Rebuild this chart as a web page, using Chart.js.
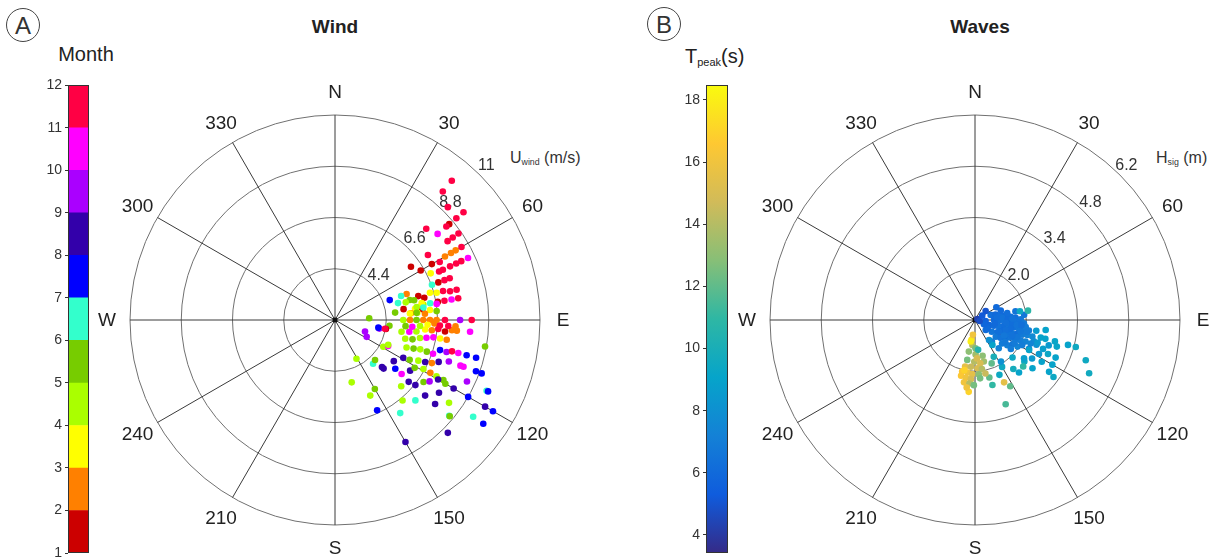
<!DOCTYPE html>
<html>
<head>
<meta charset="utf-8">
<script src="https://cdn.jsdelivr.net/npm/chart.js@4.4.1/dist/chart.umd.min.js"></script>
<style>
  html, body { margin: 0; padding: 0; background: #fff; overflow: hidden; }
  body { width: 1221px; height: 558px; position: relative; font-family: 'Liberation Sans', Arial, sans-serif; color: #222; }
  .box { position: absolute; }
  .txt { position: absolute; white-space: nowrap; }
  .panel { position: absolute; width: 32px; height: 32px; border: 1.3px solid #444; border-radius: 50%;
           font-size: 24px; line-height: 33px; text-align: center; color: #333; }
  sub { font-size: 0.55em; vertical-align: -0.25em; }
</style>
</head>
<body>

<div class="panel" style="left:6px;top:8px;">A</div>
<div class="panel" style="left:647px;top:7px;">B</div>
<div class="txt" style="left:235px;top:16px;width:200px;text-align:center;font-weight:bold;font-size:19px;">Wind</div>
<div class="txt" style="left:880px;top:16px;width:200px;text-align:center;font-weight:bold;font-size:19px;">Waves</div>
<div class="txt" style="left:36px;top:43px;width:100px;text-align:center;font-size:20px;">Month</div>
<div class="txt" style="left:685px;top:45px;font-size:20px;">T<sub>peak</sub>(s)</div>
<div class="txt" style="left:510px;top:149px;font-size:16px;color:#333;">U<sub>wind</sub> (m/s)</div>
<div class="txt" style="left:1156px;top:149px;font-size:16px;color:#333;">H<sub>sig</sub> (m)</div>

<div class="box" style="left:40px;top:74px;width:60px;height:498px;"><canvas id="monthBar"></canvas></div>
<div class="box" style="left:670px;top:70px;width:70px;height:500px;"><canvas id="tpBar"></canvas></div>
<div class="box" style="left:90px;top:0;width:510px;height:558px;"><canvas id="windPolar"></canvas></div>
<div class="box" style="left:730px;top:0;width:491px;height:558px;"><canvas id="wavePolar"></canvas></div>

<script>
const FONT = "'Liberation Sans', Arial, sans-serif";

// ---- compass / ring labels
const directionLabels = ['N', '30', '60', 'E', '120', '150', 'S', '210', '240', 'W', '300', '330'];
const windRingMin = 2.2;
const windRings = [4.4, 6.6, 8.8, 11];
const windRingText = ['4.4', '6.6', '8.8', '11'];
const waveRingMin = 0.6;
const waveRings = [2.0, 3.4, 4.8, 6.2];
const waveRingText = ['2.0', '3.4', '4.8', '6.2'];

// ---- colorbar ticks
const monthTicks = [1, 2, 3, 4, 5, 6, 7, 8, 9, 10, 11, 12];
const monthColors = ['#cc0000', '#ff8000', '#ffff00', '#aaff00', '#77cc00', '#33ffcc',
                     '#0000ff', '#3300aa', '#aa00ff', '#ff00ff', '#ff0044'];
const tpTicks = [4, 6, 8, 10, 12, 14, 16, 18];
const tpMin = 3.42, tpMax = 18.48;
const parula = ['#352a87', '#0f5cdd', '#1481d6', '#06a4ca', '#2eb7a4', '#87bf77', '#d1bb59', '#fec832', '#f9fb0e'];

// ---- wind: direction (deg from N), speed (m/s), month
const windDir = [
  40, 40, 45, 50, 50, 50, 50, 45, 50, 55, 55, 55, 60, 60, 60, 60, 55, 65, 65, 61, 60, 55, 60, 65, 65, 64, 65, 65, 70, 70,
  70, 70, 76, 76, 75, 75, 74, 70, 74, 76, 70, 70, 75, 80, 80, 80, 80, 80, 80, 81, 82, 83, 84, 85, 83, 85, 85, 86, 87,
  90, 90, 90, 90, 90, 90, 90, 90, 90,
  96, 101, 100, 111, 118,
  100, 99, 98, 96, 96, 95, 96, 95, 95,
  105, 104, 102, 101, 100, 100, 100,
  100, 119, 116,
  111, 110, 109, 109, 109, 106, 106, 105, 105,
  105, 105,
  119, 118, 116, 115, 114, 112, 110, 110, 110,
  151, 139, 135, 135, 135, 125, 129, 129, 124,
  121, 119, 119, 119, 119,
  110, 110, 165, 150, 155, 155, 135, 130, 129, 125, 123, 120, 120, 120, 120, 115, 115, 115, 140, 135, 130, 125,
  130, 126, 120, 120, 125, 125, 130, 145, 135, 150,
  75, 76, 76, 79, 81, 81, 82, 85, 85, 95, 95, 94, 93, 92, 93, 93, 93, 100, 100, 115, 95, 130
];
const windSpeed = [
  10.0, 9.4, 9.05, 9.4, 9.0, 8.6, 8.44, 7.74, 7.95, 8.67, 8.37, 8.1, 8.47, 8.18, 7.95, 7.65, 7.07, 8.5, 8.18, 7.34,
  7.0, 6.18, 6.45, 7.65, 7.94, 6.77, 7.13, 7.31, 7.44, 7.2, 6.92, 6.63, 7.58, 7.29, 7.0, 6.72, 6.44, 5.47, 5.92, 6.15,
  4.7, 5.22, 5.52, 7.57, 7.28, 6.97, 6.68, 6.35, 6.05, 5.18, 5.67, 5.98, 6.3, 6.58, 4.8, 5.47, 5.75, 6.07, 3.67,
  5.13, 5.42, 5.7, 5.99, 6.28, 6.56, 6.92, 7.57, 8.07,
  4.55, 4.14, 4.42, 3.58, 3.74,
  5.1, 5.43, 5.73, 6.09, 6.38, 6.65, 6.95, 7.24, 7.45,
  5.32, 5.63, 5.93, 6.2, 6.49, 6.78, 7.07,
  8.74, 4.57, 4.74,
  5.49, 5.79, 6.07, 6.37, 6.65, 6.89, 7.18, 7.4, 7.68,
  8.05, 8.47,
  5.55, 5.83, 6.18, 6.47, 6.75, 7.0, 7.4, 7.93, 8.07,
  4.1, 4.69, 4.63, 5.05, 5.15, 5.28, 5.53, 5.88, 6.09,
  6.19, 6.54, 6.88, 7.18, 7.52,
  8.64, 8.9, 4.97, 5.62, 5.78, 6.48, 6.22, 6.33, 6.64, 6.84, 7.04, 7.31, 7.67, 8.08, 8.8, 8.45, 9.38, 9.45, 6.71,
  7.08, 7.25, 7.65, 7.81, 8.25, 9.64, 10.03, 9.97, 9.44, 8.6, 7.08, 9.05, 8.25,
  5.0, 5.33, 5.7, 5.99, 6.62, 5.75, 6.03, 5.43, 5.72, 5.24, 5.53, 5.86, 6.18, 6.47, 6.71, 7.07, 7.38, 4.09, 4.38,
  4.72, 8.02, 8.63
];
const windMonth = [
  12, 12, 12, 12, 12, 1, 12, 12, 10, 12, 12, 12, 12, 2, 2, 2, 12, 10, 12, 12, 1, 1, 1, 12, 12, 3, 12, 12, 12, 12,
  1, 6, 12, 12, 12, 3, 3, 2, 1, 1, 7, 6, 5, 12, 10, 12, 1, 6, 4, 1, 3, 1, 3, 5, 5, 2, 3, 2, 5,
  4, 2, 5, 2, 2, 2, 12, 9, 12,
  5, 9, 1, 9, 9,
  4, 10, 4, 3, 2, 12, 1, 2, 2,
  4, 5, 4, 10, 10, 3, 2,
  5, 4, 10,
  4, 5, 4, 5, 10, 7, 9, 12, 10,
  7, 7,
  8, 5, 4, 8, 2, 8, 9, 10, 10,
  4, 6, 5, 8, 8, 8, 7, 10, 8,
  5, 4, 2, 4, 5,
  7, 7, 4, 5, 4, 7, 4, 8, 8, 5, 9, 8, 5, 8, 7, 9, 6, 7, 4, 6, 8, 8,
  8, 4, 8, 7, 7, 6, 6, 6, 8, 8,
  6, 4, 5, 3, 10, 4, 6, 3, 5, 5, 10, 4, 3, 2, 12, 12, 2, 7, 12, 4, 10, 5
];

// ---- waves: direction (deg from N), Hsig (m), Tpeak (s)
const waveDir = [
  72, 75, 80, 81, 85, 87, 89, 90, 92, 90, 92, 92, 93, 94,
  110, 107, 106, 101, 101, 101, 101, 100, 101,
  133, 125, 119, 112, 111, 110, 108, 107, 106,
  129, 125, 121, 116, 115, 114, 113,
  131, 128, 123, 122, 118, 118,
  140, 129, 95, 124, 116, 59, 50, 67, 102, 59, 142, 78, 84, 106, 110, 112, 113, 97, 116, 116, 98, 112,
  83, 86, 88, 95, 97, 104, 104, 108, 113, 118, 120, 126, 96, 88, 78, 70, 103, 100,
  79, 80, 105, 105, 105, 113, 115, 115, 105, 105, 110, 115, 125, 130, 130, 140, 134, 118, 124, 150,
  156, 152, 160, 155, 166, 165, 110, 109, 119, 145, 153, 148, 145, 120,
  100, 98, 108, 122, 128, 135, 142, 126,
  190, 186, 179, 191, 179, 168, 168, 191, 181, 173, 192, 185, 177, 172, 194, 188, 183, 176, 194, 189,
  184, 190, 185, 185, 181, 187, 159, 191, 188, 174, 175, 169, 177, 192
];
const waveHs = [
  1.05, 1.18, 1.31, 1.45, 1.58, 1.71, 1.85, 1.12, 1.26, 1.39, 1.53, 1.67, 1.80, 1.94,
  1.01, 1.14, 1.28, 1.41, 1.55, 1.68, 1.82, 1.96, 2.10,
  1.00, 1.16, 1.30, 1.41, 1.55, 1.68, 1.81, 1.95, 2.09,
  1.33, 1.45, 1.58, 1.69, 1.83, 1.96, 2.10,
  1.58, 1.72, 1.82, 1.97, 2.06, 2.27,
  1.61, 1.86, 0.89, 1.01, 0.87, 1.28, 0.98, 0.67, 0.73, 0.83, 1.35, 1.73, 1.95, 2.23, 2.31, 2.41, 2.25, 1.63, 1.53,
  1.33, 2.00, 1.84,
  1.20, 1.36, 1.50, 1.45, 1.75, 1.60, 1.88, 1.48, 1.70, 1.50, 1.85, 1.62, 1.88, 1.62, 1.50, 1.35, 2.05, 1.15,
  1.85, 2.07, 2.46, 2.59, 2.86, 2.62, 2.80, 3.03, 3.23, 3.45, 3.82, 4.04, 3.07, 2.65, 2.36, 2.47, 2.43, 2.58, 2.48,
  2.08, 2.24, 2.65, 3.05, 2.48, 2.22, 2.44, 2.42, 2.73, 2.29, 1.43, 1.73, 1.94, 1.27, 3.04,
  2.30, 2.55, 2.95, 2.75, 2.30, 2.05, 2.30, 3.25,
  1.15, 1.29, 1.37, 1.48, 1.54, 1.60, 1.76, 1.71, 1.74, 1.79, 1.90, 1.88, 1.92, 1.95, 2.05, 2.05, 2.08, 2.09, 2.17,
  2.20, 2.22, 2.33, 2.34, 2.57, 2.38, 2.46, 1.87, 1.20, 1.01, 1.42, 2.20, 2.09, 1.65, 2.00
];
const waveTp = [
  6.2, 6.0, 6.3, 6.1, 6.4, 6.2, 6.6, 6.0, 6.3, 6.5, 6.2, 6.6, 6.4, 6.8,
  5.8, 6.1, 6.4, 6.2, 6.5, 6.3, 6.7, 6.5, 7.0,
  6.2, 6.6, 6.3, 6.1, 6.4, 6.6, 6.2, 6.9, 7.2,
  6.8, 6.5, 6.3, 6.6, 6.4, 7.0, 7.3,
  6.9, 7.1, 6.6, 7.4, 7.0, 7.6,
  7.2, 7.0, 5.6, 6.0, 5.8, 6.0, 5.0, 4.3, 4.8, 5.2, 7.0, 6.5, 6.7, 7.6, 7.8, 8.0, 7.4, 6.2, 6.5, 6.3, 6.9, 6.6,
  6.2, 6.4, 6.1, 6.3, 6.5, 6.2, 6.6, 6.3, 6.4, 6.7, 6.9, 6.8, 6.3, 6.4, 6.2, 6.0, 6.8, 6.0,
  9.5, 10.8, 9.0, 9.0, 9.2, 8.8, 9.3, 9.0, 9.0, 9.5, 9.5, 9.6, 9.0, 9.0, 9.5, 9.0, 11.0, 8.5, 8.5, 9.5,
  9.5, 12.0, 11.5, 15.5, 12.0, 11.0, 8.5, 8.5, 9.0, 9.0, 10.0, 8.0, 8.0, 9.0,
  8.6, 9.0, 9.2, 9.0, 8.8, 9.4, 9.8, 9.4,
  17.5, 14.0, 12.5, 13.0, 13.5, 13.0, 13.5, 12.5, 14.0, 15.0, 15.5, 14.5, 15.0, 14.0, 16.5, 16.0, 15.5, 13.0, 16.5,
  16.0, 15.0, 16.0, 14.0, 17.0, 12.5, 16.0, 12.0, 18.0, 16.0, 10.5, 12.5, 14.5, 15.0, 17.0
];

// ---- helpers
function hexToRgb(h) {
  const n = parseInt(h.slice(1), 16);
  return [(n >> 16) & 255, (n >> 8) & 255, n & 255];
}
function parulaColor(v) {
  let t = (v - tpMin) / (tpMax - tpMin);
  t = Math.max(0, Math.min(1, t)) * (parula.length - 1);
  const i = Math.min(Math.floor(t), parula.length - 2);
  const f = t - i;
  const a = hexToRgb(parula[i]), b = hexToRgb(parula[i + 1]);
  const c = a.map((x, k) => Math.round(x + (b[k] - x) * f));
  return `rgb(${c[0]},${c[1]},${c[2]})`;
}
function monthColor(m) {
  return monthColors[Math.min(Math.floor(m) - 1, monthColors.length - 1)];
}

// polar grid drawn behind the points, sized from the chart's own scales
const polarGrid = {
  id: 'polarGrid',
  beforeDatasetsDraw(chart, args, opts) {
    const { ctx } = chart;
    const sx = chart.scales.x, sy = chart.scales.y;
    const cx = sx.getPixelForValue(0), cy = sy.getPixelForValue(0);
    const rad = v => sx.getPixelForValue(v - opts.rmin) - cx;
    const R = rad(opts.rings[opts.rings.length - 1]);

    ctx.save();
    ctx.lineWidth = 1;
    ctx.strokeStyle = '#707070';
    opts.rings.forEach(v => {
      ctx.beginPath();
      ctx.arc(cx, cy, rad(v), 0, Math.PI * 2);
      ctx.stroke();
    });

    ctx.strokeStyle = '#3a3a3a';
    ctx.fillStyle = '#222';
    ctx.font = `19px ${FONT}`;
    ctx.textAlign = 'center';
    ctx.textBaseline = 'middle';
    directionLabels.forEach((lab, i) => {
      const a = i * 30 * Math.PI / 180;
      ctx.beginPath();
      ctx.moveTo(cx, cy);
      ctx.lineTo(cx + R * Math.sin(a), cy - R * Math.cos(a));
      ctx.stroke();
      ctx.fillText(lab, cx + (R + 23) * Math.sin(a), cy - (R + 23) * Math.cos(a) + 1);
    });

    ctx.font = `16px ${FONT}`;
    ctx.fillStyle = '#333';
    const la = 44.5 * Math.PI / 180;
    opts.rings.forEach((v, i) => {
      const r = rad(v) + 11;
      ctx.fillText(opts.ringText[i], cx + r * Math.sin(la), cy - r * Math.cos(la));
    });

    ctx.fillStyle = '#111';
    ctx.beginPath();
    ctx.arc(cx, cy, 2.5, 0, Math.PI * 2);
    ctx.fill();
    ctx.restore();
  }
};

const cbFrame = {
  id: 'cbFrame',
  afterDraw(chart) {
    const { ctx, chartArea: a } = chart;
    ctx.save();
    ctx.strokeStyle = '#333';
    ctx.lineWidth = 1;
    ctx.strokeRect(Math.round(a.left) + 0.5, Math.round(a.top) + 0.5,
                   Math.round(a.right - a.left) - 1, Math.round(a.bottom - a.top) - 1);
    ctx.restore();
  }
};

function polarChart(id, dirs, vals, colors, rmin, rings, ringText, padding) {
  const span = rings[rings.length - 1] - rmin;
  const pts = dirs.map((d, i) => {
    const r = vals[i] - rmin, a = d * Math.PI / 180;
    return { x: r * Math.sin(a), y: r * Math.cos(a) };
  });
  return new Chart(document.getElementById(id), {
    type: 'scatter',
    data: {
      datasets: [{
        data: pts,
        pointBackgroundColor: colors,
        pointBorderWidth: 0,
        pointRadius: 3.3,
        pointHoverRadius: 3.3,
        clip: false
      }]
    },
    options: {
      responsive: true,
      maintainAspectRatio: false,
      animation: false,
      layout: { padding },
      scales: {
        x: { display: false, min: -span, max: span },
        y: { display: false, min: -span, max: span }
      },
      plugins: {
        legend: { display: false },
        tooltip: { enabled: false },
        polarGrid: { rmin, rings, ringText }
      }
    },
    plugins: [polarGrid]
  });
}

function colorbarAxis(ticks, width) {
  return {
    min: ticks[0],
    max: ticks[ticks.length - 1],
    afterFit(s) { s.width = width; },
    afterBuildTicks(s) { s.ticks = ticks.map(v => ({ value: v })); },
    ticks: { font: { size: 14, family: FONT }, color: '#333', padding: 3 },
    grid: { drawOnChartArea: false, tickLength: 3, color: '#333' },
    border: { display: false }
  };
}

// month colorbar: one floating bar per bin
new Chart(document.getElementById('monthBar'), {
  type: 'bar',
  data: {
    labels: [''],
    datasets: monthColors.map((c, i) => ({
      data: [[monthTicks[i], monthTicks[i + 1]]],
      backgroundColor: c,
      borderWidth: 0,
      barPercentage: 1,
      categoryPercentage: 1,
      grouped: false
    }))
  },
  options: {
    responsive: true,
    maintainAspectRatio: false,
    animation: false,
    layout: { padding: { top: 11, bottom: 19, left: 0, right: 11 } },
    scales: {
      x: { display: false },
      y: colorbarAxis(monthTicks, 28)
    },
    plugins: { legend: { display: false }, tooltip: { enabled: false } }
  },
  plugins: [cbFrame]
});

// Tpeak colorbar: a single bar filled with the parula gradient
const tpAxis = colorbarAxis(tpTicks, 36);
tpAxis.min = tpMin;
tpAxis.max = tpMax;
new Chart(document.getElementById('tpBar'), {
  type: 'bar',
  data: {
    labels: [''],
    datasets: [{
      data: [[tpMin, tpMax]],
      backgroundColor(c) {
        const ch = c.chart;
        if (!ch.chartArea) return parula[0];
        const y = ch.scales.y;
        const g = ch.ctx.createLinearGradient(0, y.getPixelForValue(tpMin), 0, y.getPixelForValue(tpMax));
        parula.forEach((col, i) => g.addColorStop(i / (parula.length - 1), col));
        return g;
      },
      borderWidth: 0,
      barPercentage: 1,
      categoryPercentage: 1
    }]
  },
  options: {
    responsive: true,
    maintainAspectRatio: false,
    animation: false,
    layout: { padding: { top: 15, bottom: 17, left: 0, right: 12 } },
    scales: {
      x: { display: false },
      y: tpAxis
    },
    plugins: { legend: { display: false }, tooltip: { enabled: false } }
  },
  plugins: [cbFrame]
});

polarChart('windPolar', windDir, windSpeed, windMonth.map(monthColor),
           windRingMin, windRings, windRingText, { left: 40, right: 60, top: 115, bottom: 33 });
polarChart('wavePolar', waveDir, waveHs, waveTp.map(parulaColor),
           waveRingMin, waveRings, waveRingText, { left: 40, right: 41, top: 115, bottom: 33 });
</script>
</body>
</html>
